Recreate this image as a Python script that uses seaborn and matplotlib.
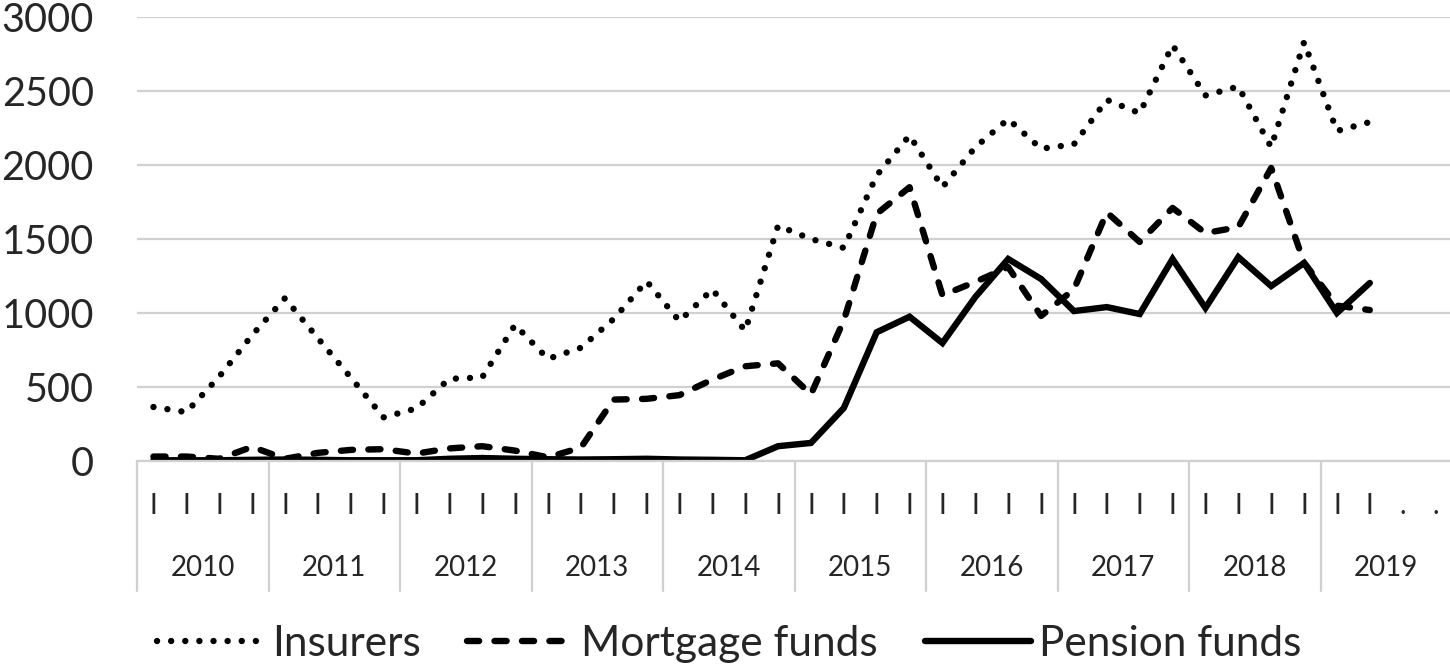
import pandas as pd
import numpy as np
import matplotlib
matplotlib.use('Agg')
import matplotlib.pyplot as plt
import matplotlib.transforms as mtransforms
import seaborn as sns

# Quarterly values, 2010 Q1 - 2019 Q2
insurers = [365, 330, 570, 850, 1100, 830, 565, 295, 355, 555, 565, 920, 690, 765, 960, 1215,
            945, 1160, 880, 1590, 1500, 1440, 1930, 2200, 1850, 2120, 2310, 2110, 2140, 2440,
            2350, 2810, 2470, 2530, 2120, 2830, 2230, 2290]
mortgage_funds = [30, 30, 15, 95, 15, 55, 75, 80, 50, 85, 100, 70, 25, 90, 415, 420,
                  445, 550, 640, 660, 450, 950, 1670, 1850, 1120, 1210, 1310, 980, 1160, 1680,
                  1480, 1710, 1540, 1580, 1980, 1340, 1050, 1020]
pension_funds = [5, 5, 5, 8, 10, 8, 5, 5, 5, 15, 20, 15, 12, 10, 12, 15,
                 10, 8, 5, 100, 122, 358, 870, 975, 797, 1108, 1365, 1230, 1013, 1040,
                 993, 1365, 1034, 1378, 1182, 1338, 1000, 1203]

years = ['2010', '2011', '2012', '2013', '2014', '2015', '2016', '2017', '2018', '2019']
quarter_labels = ['I'] * 38 + ['.', '.']
series_names = ['Insurers', 'Mortgage funds', 'Pension funds']

df = pd.DataFrame({
    'q': list(range(len(insurers))) * 3,
    'value': insurers + mortgage_funds + pension_funds,
    'series': [s for s, vals in zip(series_names, [insurers, mortgage_funds, pension_funds])
               for _ in vals],
})

sns.set_style('white')
plt.rcParams['font.family'] = ['Lato', 'DejaVu Sans']

W, H = 1450, 668
fig = plt.figure(figsize=(W / 100, H / 100), dpi=100)
ax = fig.add_axes([137 / W, (H - 461) / H, 1315 / W, 444 / H])

grid_c = '#d0d0d0'
lw = 4.6
dash_map = {'Insurers': (0.01, 2.2), 'Mortgage funds': (1.9, 2.4), 'Pension funds': ''}

sns.lineplot(data=df, x='q', y='value', style='series', style_order=series_names,
             dashes=dash_map, color='black', linewidth=lw, legend=False,
             dash_capstyle='round', solid_joinstyle='miter', ax=ax)

ax.set_xlim(-0.5, 39.5)
ax.set_ylim(0, 3000)
ax.set_yticks(np.arange(0, 3001, 500))
ax.set_yticklabels([str(v) for v in range(0, 3001, 500)], fontsize=28.5)
ax.yaxis.grid(True, color=grid_c, linewidth=1.6)
ax.set_axisbelow(True)
ax.tick_params(axis='y', length=0, pad=31)

ax.set_xticks(range(40))
ax.set_xticklabels(quarter_labels, fontsize=20)
ax.tick_params(axis='x', length=0, pad=23)
ax.set_xlabel('')
ax.set_ylabel('')

for side in ['left', 'right', 'top']:
    ax.spines[side].set_visible(False)
ax.spines['bottom'].set_color(grid_c)
ax.spines['bottom'].set_linewidth(1.6)

# multi-level category axis: year separators and year labels
trans = mtransforms.blended_transform_factory(ax.transData, ax.transAxes)
for k, yr in enumerate(years):
    ax.plot([4 * k - 0.5, 4 * k - 0.5], [0, -0.292], transform=trans, color=grid_c,
            linewidth=1.6, clip_on=False)
    ax.text(4 * k + 1.5, -0.241, yr, transform=trans, ha='center', va='center', fontsize=20)

lines = ax.get_lines()[:3]
fig.legend(lines, series_names, loc='center', bbox_to_anchor=(0.503, 0.036), ncol=3,
           frameon=False, fontsize=30.5, handlelength=2.5, handletextpad=0.2,
           columnspacing=1.1)

fig.savefig('out.png', dpi=100)
